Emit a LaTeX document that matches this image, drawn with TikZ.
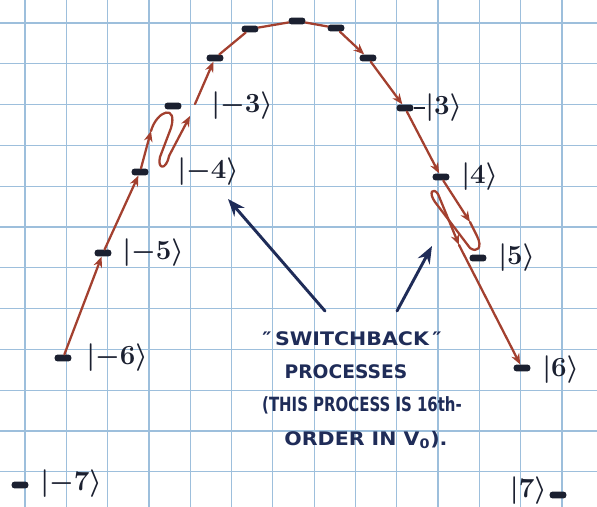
\documentclass[tikz,border=0pt]{standalone}
\usepackage{graphicx}
\usepackage{fontspec}
\setmainfont{DejaVu Sans}
\usetikzlibrary{arrows.meta}
\definecolor{gridblue}{HTML}{9DBFDC}
\definecolor{ink}{HTML}{1B2030}
\definecolor{navy}{HTML}{1F2C58}
\definecolor{redink}{HTML}{A3402F}
\begin{document}
\begin{tikzpicture}[x=0.75pt,y=-0.75pt,
  gridline/.style={gridblue, line width=0.9pt},
  level/.style={fill=ink, draw=none, rounded corners=2pt, minimum width=12.5pt, minimum height=5pt, inner sep=0pt},
  ket/.style={text=ink, font=\fontsize{21}{21}\selectfont\boldmath, inner sep=0pt},
  redline/.style={draw=redink, line width=1.7pt, line cap=round, line join=round},
  redarrow/.style={redline, -{Stealth[length=8pt,width=6.5pt]}},
  bluearrow/.style={draw=navy, line width=2.2pt, line cap=round, -{Stealth[length=13pt,width=10pt]}},
  note/.style={text=navy, font=\bfseries\fontsize{14}{16}\selectfont, inner sep=0pt}
]
\fill[white] (0,0) rectangle (597,507);
\useasboundingbox (0,0) rectangle (597,507);
\foreach \i in {0,...,13} \draw[gridline] ({25+41.3*\i},0) -- ({25+41.3*\i},507);
\foreach \j in {0,...,11} \draw[gridline] (0,{23+40.8*\j}) -- (597,{23+40.8*\j});

% levels
\node[level] (lm7) at (20,485) {};
\node[level] (lm6) at (63,358) {};
\node[level] (lm5) at (103,253) {};
\node[level] (lm4) at (140,172) {};
\node[level] (lm3) at (173,106) {};
\node[level] (lm2) at (215,58) {};
\node[level] (lm1) at (250,29) {};
\node[level] (l0)  at (297,21) {};
\node[level] (lp1) at (336,28) {};
\node[level] (lp2) at (368,58) {};
\node[level] (lp3) at (405,108) {};
\node[level] (lp4) at (441,177) {};
\node[level] (lp5) at (478,258) {};
\node[level] (lp6) at (522,368) {};
\node[level] (lp7) at (558,495) {};

% labels
\node[ket, anchor=west] (km7) at (40,484) {$|{-7}\rangle$};
\node[ket, anchor=west] (km6) at (86,358) {$|{-6}\rangle$};
\node[ket, anchor=west] (km5) at (122,253) {$|{-5}\rangle$};
\node[ket, anchor=west] (km4) at (177,172) {$|{-4}\rangle$};
\node[ket, anchor=west] (km3) at (211,106) {$|{-3}\rangle$};
\node[ket, anchor=west] (kp3) at (425,108) {$|3\rangle$};
\node[ket, anchor=west] (kp4) at (461,177) {$|4\rangle$};
\node[ket, anchor=west] (kp5) at (498,258) {$|5\rangle$};
\node[ket, anchor=west] (kp6) at (542,370) {$|6\rangle$};
\node[ket, anchor=east] (kp7) at (547,491) {$|7\rangle$};
\draw[ink, line width=1pt] (lp3.east) -- (kp3.west);

% red path, left side
\draw[redarrow] (lm6) -- (lm5);
\draw[redarrow] (lm5) -- (lm4);
\coordinate (sa) at (151,131);
\coordinate (sd) at (169,156);
\coordinate (sb) at (190,116);
\coordinate (sc) at (195,104);
\draw[redarrow] (lm4) -- (sa);
\draw[redline] (sa) .. controls (157,110) and (178,104) .. (171,128) -- (160,157) .. controls (157,169) and (166,171) .. (sd);
\draw[redarrow] (sd) -- (sb);
\draw[redarrow] (sc) -- (lm2);

% top
\draw[redline] (lm2) -- (lm1);
\draw[redline] (lm1) -- (l0);
\draw[redline] (l0) -- (lp1);
\draw[redarrow] (lp1) -- (lp2);
\draw[redarrow] (lp2) -- (lp3);
\draw[redarrow] (lp3) -- (lp4);

% red path, right side
\coordinate (ra) at (470,222);
\coordinate (rc) at (438,194);
\coordinate (rd) at (459,245);
\draw[redarrow] (lp4) -- (ra);
\draw[redline] (ra) -- (477,236) .. controls (483,248) and (477,253) .. (470,248) -- (435,202) .. controls (428,192) and (433,187) .. (rc);
\draw[redarrow] (rc) -- (rd);
\draw[redarrow] (rd) -- (lp6);

% blue pointers
\coordinate (bl1) at (325,311);
\coordinate (bt1) at (228,199);
\coordinate (bl2) at (397,311);
\coordinate (bt2) at (432,246);
\draw[bluearrow] (bl1) -- (bt1);
\draw[bluearrow] (bl2) -- (bt2);

% note
\node[note] (t1) at (352,339) {\scalebox{1.1}[1]{″\,SWITCHBACK\,″}};
\node[note] (t2) at (346,372) {PROCESSES};
\node[note] (t3) at (362,405) {\scalebox{0.8}[1.05]{(THIS PROCESS IS 16th-}};
\node[note] (t4) at (366,440) {\scalebox{1.1}[1]{ORDER IN V\textsubscript{0}).}};
\end{tikzpicture}
\end{document}
